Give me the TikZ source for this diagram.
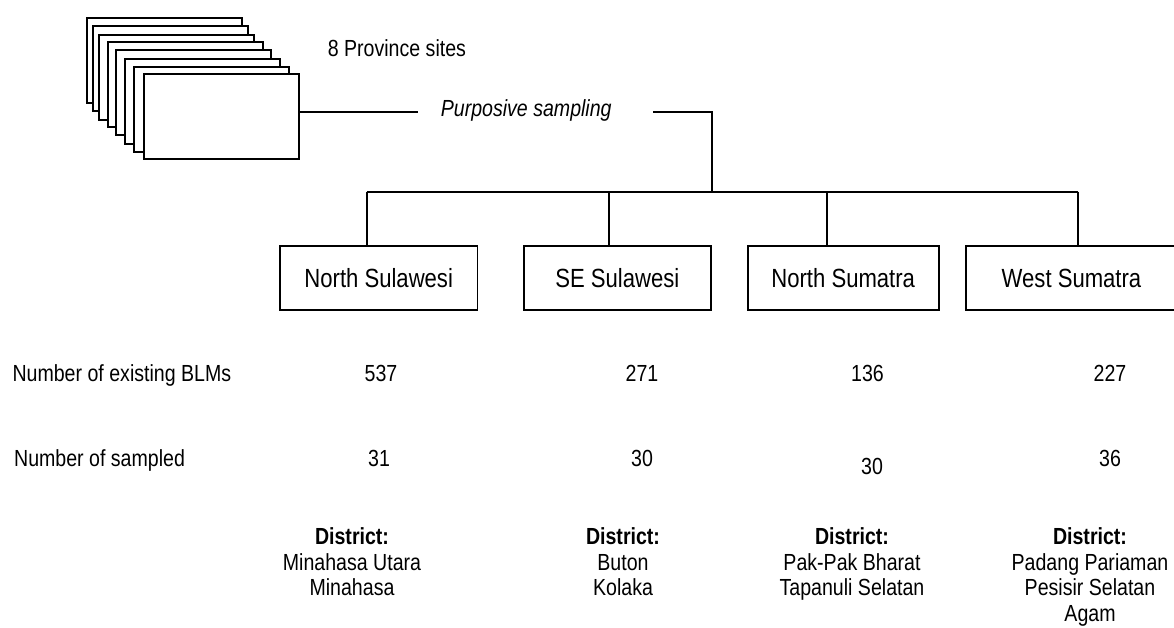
\documentclass[tikz,border=0pt]{standalone}
\usepackage{fontspec}
\setmainfont{Liberation Sans}[FakeStretch=0.84]
\begin{document}
\begin{tikzpicture}[x=1pt,y=-1pt,line width=1.7pt,
  sheet/.style={draw,fill=white,minimum width=155pt,minimum height=85pt,inner sep=0pt},
  box/.style={draw,fill=white,minimum height=64pt,inner sep=0pt,font=\fontsize{26.3}{30}\selectfont},
  lbl/.style={inner sep=0pt,font=\fontsize{23.3}{25.5}\selectfont},
  dist/.style={lbl,align=center,anchor=north}]
\useasboundingbox (0,0) rectangle (1174,628);
\clip (0,0) rectangle (1174,628);
% stacked sheets
\node[sheet] (s1) at (164.8,60.8) {};
\node[sheet] (s2) at (170.8,68.5) {};
\node[sheet] (s3) at (176.8,77.2) {};
\node[sheet] (s4) at (185.5,84.5) {};
\node[sheet] (s5) at (193.8,92.5) {};
\node[sheet] (s6) at (202.8,101.8) {};
\node[sheet] (s7) at (211.8,109.2) {};
\node[sheet] (s8) at (221.8,116.5) {};
\node[lbl,anchor=base west] (sites) at (327,56.7) {8 Province sites};
% purposive sampling connector
\coordinate (p1) at (417.5,112);
\coordinate (p2) at (653.3,112);
\coordinate (p3) at (711.7,112);
\coordinate (p4) at (711.7,191.7);
\node[lbl,anchor=base west] (ps) at (440,117) {\itshape Purposive sampling};
\draw (s8.east |- p1) -- (p1);
\draw (p2) -- (p3) -- (p4);
% boxes
\node[box,minimum width=197.3pt] (b1) at (378.7,278) {North Sulawesi};
\node[box,minimum width=187.3pt] (b2) at (617.3,278) {SE Sulawesi};
\node[box,minimum width=191pt] (b3) at (843.2,278) {North Sumatra};
\node[box,minimum width=211pt] (b4) at (1071.5,278) {West Sumatra};
% bus
\coordinate (d1) at (366.7,191.7);
\coordinate (d2) at (609.3,191.7);
\coordinate (d3) at (826.7,191.7);
\coordinate (d4) at (1078.3,191.7);
\draw (d1) -- (d4);
\draw (d1) -- (d1 |- b1.north);
\draw (d2) -- (d2 |- b2.north);
\draw (d3) -- (d3 |- b3.north);
\draw (d4) -- (d4 |- b4.north);
% rows
\node[lbl,anchor=base west] (r1) at (11.7,381.5) {Number of existing BLMs};
\node[lbl,anchor=base west] (r2) at (13.3,466) {Number of sampled};
\node[lbl,anchor=base] (n11) at (381,381.5) {537};
\node[lbl,anchor=base] (n12) at (642,381.5) {271};
\node[lbl,anchor=base] (n13) at (867.5,381.5) {136};
\node[lbl,anchor=base] (n14) at (1110,381.5) {227};
\node[lbl,anchor=base] (n21) at (379,466) {31};
\node[lbl,anchor=base] (n22) at (642,466) {30};
\node[lbl,anchor=base] (n23) at (872,474) {30};
\node[lbl,anchor=base] (n24) at (1110,466) {36};
% districts
\node[dist] (t1) at (352,527) {\textbf{District:}\\Minahasa Utara\\Minahasa};
\node[dist] (t2) at (623,527) {\textbf{District:}\\Buton\\Kolaka};
\node[dist] (t3) at (852,527) {\textbf{District:}\\Pak-Pak Bharat\\Tapanuli Selatan};
\node[dist] (t4) at (1090,527) {\textbf{District:}\\Padang Pariaman\\Pesisir Selatan\\Agam};
\end{tikzpicture}
\end{document}
